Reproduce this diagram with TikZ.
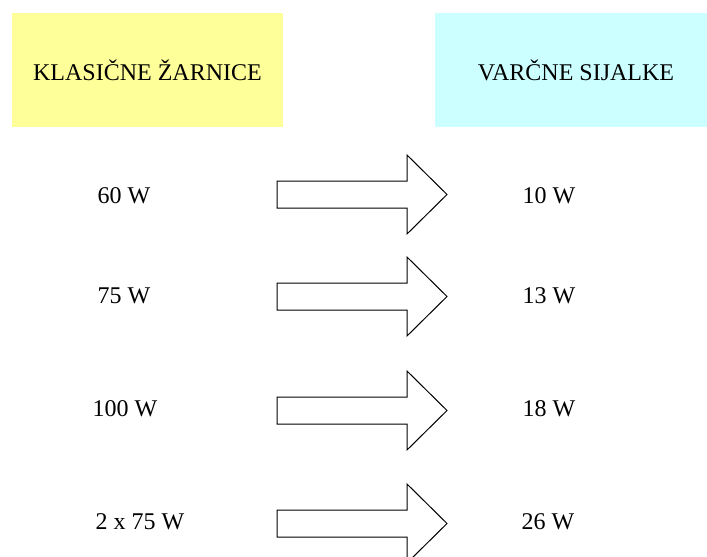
\documentclass[tikz,border=0pt]{standalone}
\usepackage{fontspec}
\setmainfont{Liberation Serif}
\definecolor{hdryellow}{HTML}{FFFF99}
\definecolor{hdrcyan}{HTML}{CCFFFF}
\begin{document}
\begin{tikzpicture}[x=1pt,y=-1pt,
  lbl/.style={font=\fontsize{24}{28}\selectfont, inner sep=0pt, anchor=center},
  hdr/.style={inner sep=0pt, outer sep=0pt},
  fatarrow/.style={draw=black, line width=1pt, fill=white, line join=miter}]
\useasboundingbox (0,0) rectangle (707,557);
% headers
\fill[hdryellow] (12,13) rectangle (283,127);
\fill[hdrcyan] (435,13) rectangle (707,127);
\node[lbl] (h1) at (147.5,70) {KLASIČNE ŽARNICE};
\node[lbl] (h2) at (576,70) {VARČNE SIJALKE};
% arrows
\foreach \yc/\nm in {194.5/a1, 296.5/a2, 410.5/a3, 523.5/a4} {
  \draw[fatarrow] (277,\yc-13.5) -- (407,\yc-13.5) -- (407,\yc-39.5) -- (447,\yc)
     -- (407,\yc+39.5) -- (407,\yc+13.5) -- (277,\yc+13.5) -- cycle;
}
% left labels
\node[lbl] (l1) at (124,196) {60 W};
\node[lbl] (l2) at (124,296) {75 W};
\node[lbl] (l3) at (125,409) {100 W};
\node[lbl] (l4) at (140,522) {2 x 75 W};
% right labels
\node[lbl] (r1) at (549,196) {10 W};
\node[lbl] (r2) at (549,296) {13 W};
\node[lbl] (r3) at (549,409) {18 W};
\node[lbl] (r4) at (548,522) {26 W};
\end{tikzpicture}
\end{document}
